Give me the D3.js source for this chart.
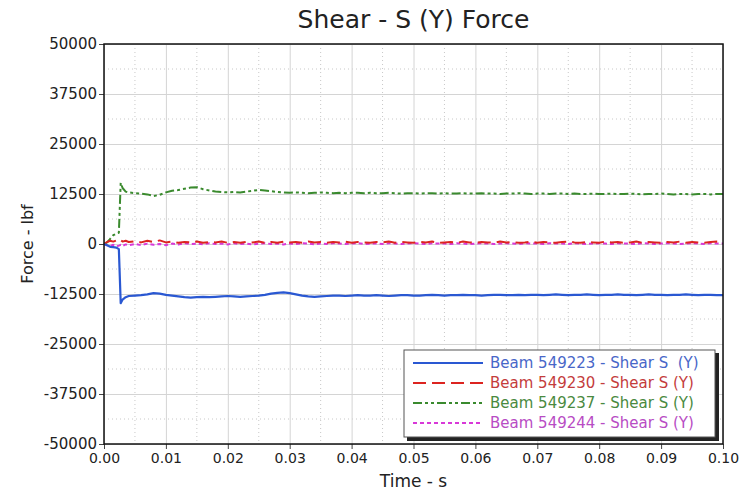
<!DOCTYPE html>
<html>
<head>
<meta charset="utf-8">
<script src="https://cdn.jsdelivr.net/npm/d3@7"></script>
<style>
  body { margin: 0; background: #fff; }
  svg text { font-family: "DejaVu Sans", sans-serif; fill: #222; }
</style>
</head>
<body>
<div id="chart"></div>
<script>
// Shear - S (Y) Force, four beams vs time
const time = [0, 0.0005, 0.001, 0.0015, 0.002, 0.0024, 0.0027, 0.003, 0.0035, 0.004,
  0.005, 0.006, 0.007, 0.008, 0.009, 0.010,
  0.011, 0.012, 0.013, 0.014, 0.015, 0.016, 0.017, 0.018, 0.019, 0.020,
  0.021, 0.022, 0.023, 0.024, 0.025, 0.026, 0.027, 0.028, 0.029, 0.030,
  0.031, 0.032, 0.033, 0.034, 0.035, 0.036, 0.037, 0.038, 0.039, 0.040,
  0.041, 0.042, 0.043, 0.044, 0.045, 0.046, 0.047, 0.048, 0.049, 0.050,
  0.051, 0.052, 0.053, 0.054, 0.055, 0.056, 0.057, 0.058, 0.059, 0.060,
  0.061, 0.062, 0.063, 0.064, 0.065, 0.066, 0.067, 0.068, 0.069, 0.070,
  0.071, 0.072, 0.073, 0.074, 0.075, 0.076, 0.077, 0.078, 0.079, 0.080,
  0.081, 0.082, 0.083, 0.084, 0.085, 0.086, 0.087, 0.088, 0.089, 0.090,
  0.091, 0.092, 0.093, 0.094, 0.095, 0.096, 0.097, 0.098, 0.099, 0.100];

const beam223 = [0, -300, -700, -800, -900, -1300, -14800, -13900, -13300, -13000,
  -12900, -12800, -12600, -12300, -12400, -12700,
  -12900, -13100, -13300, -13400, -13300, -13200, -13300, -13200, -13100, -13000,
  -13100, -13200, -13100, -13000, -12900, -12700, -12400, -12200, -12100, -12300,
  -12600, -12900, -13100, -13200, -13100, -13000, -12900, -12900, -13000, -12900,
  -12800, -12900, -12900, -12800, -12900, -13000, -12900, -12800, -12800, -12900,
  -12900, -12800, -12700, -12800, -12900, -12800, -12800, -12700, -12800, -12800,
  -12900, -12800, -12700, -12700, -12800, -12800, -12700, -12800, -12700, -12700,
  -12800, -12700, -12600, -12700, -12800, -12700, -12700, -12600, -12700, -12800,
  -12700, -12700, -12600, -12700, -12700, -12800, -12700, -12600, -12700, -12700,
  -12800, -12700, -12700, -12600, -12700, -12800, -12700, -12700, -12800, -12800];

const beam230 = [0, 500, 800, 600, 900, 700, 1000, 600, 800, 500,
  700, 400, 800, 500, 900, 400,
  600, 300, 500, 400, 600, 300, 500, 400, 600, 300,
  500, 300, 500, 400, 600, 300, 500, 300, 600, 400,
  500, 300, 600, 400, 500, 300, 500, 400, 600, 300,
  500, 400, 300, 500, 400, 600, 300, 500, 400, 300,
  500, 400, 600, 300, 400, 500, 300, 600, 400, 300,
  500, 400, 300, 600, 400, 500, 300, 400, 600, 300,
  500, 400, 300, 500, 600, 400, 300, 500, 400, 300,
  600, 400, 500, 300, 400, 600, 300, 500, 400, 300,
  500, 400, 600, 300, 500, 400, 300, 500, 600, 400];

const beam237 = [0, 400, 1300, 2200, 2600, 2800, 15300, 14000, 13100, 12900,
  12700, 12600, 12400, 12000, 12300, 12900,
  13300, 13500, 13800, 14100, 14200, 13700, 13400, 13100, 13000, 12900,
  13000, 12900, 13100, 13300, 13500, 13400, 13200, 13000, 12900, 12800,
  12900, 12800, 12700, 12800, 12900, 12800, 12700, 12800, 12700, 12800,
  12800, 12700, 12800, 12700, 12700, 12800, 12700, 12600, 12700, 12700,
  12600, 12700, 12700, 12600, 12700, 12600, 12600, 12700, 12600, 12600,
  12700, 12600, 12600, 12500, 12600, 12600, 12700, 12600, 12500, 12600,
  12600, 12500, 12600, 12600, 12500, 12600, 12500, 12500, 12600, 12500,
  12500, 12600, 12500, 12500, 12600, 12500, 12400, 12500, 12500, 12600,
  12500, 12400, 12500, 12500, 12400, 12500, 12500, 12400, 12500, 12500];

const beam244 = [0, -300, -500, -200, -600, -400, -200, -500, -100, -300,
  0, -300, 100, -200, 0, -300,
  100, -100, 200, 0, 100, -100, 200, 0, 100, -100,
  200, 0, 100, -100, 100, 200, 0, 100, -100, 100,
  0, 200, 100, -100, 100, 0, 200, 100, 0, 100,
  200, 0, 100, 100, 0, 200, 100, 0, 100, 200,
  100, 0, 200, 100, 100, 0, 200, 100, 0, 100,
  200, 100, 0, 100, 200, 100, 0, 200, 100, 100,
  0, 200, 100, 100, 0, 200, 100, 0, 100, 200,
  100, 0, 200, 100, 100, 0, 200, 100, 0, 100,
  200, 100, 0, 100, 200, 100, 0, 200, 100, 100];

const seriesNames = ['Beam 549223 - Shear S  (Y)', 'Beam 549230 - Shear S (Y)',
  'Beam 549237 - Shear S (Y)', 'Beam 549244 - Shear S (Y)'];
const xTicks = [0, 0.01, 0.02, 0.03, 0.04, 0.05, 0.06, 0.07, 0.08, 0.09, 0.10];
const yTicks = [-50000, -37500, -25000, -12500, 0, 12500, 25000, 37500, 50000];

const width = 739, height = 492;
const margin = {top: 44, right: 16, bottom: 48, left: 104};
const plotW = width - margin.left - margin.right;
const plotH = height - margin.top - margin.bottom;

const series = [
  {name: seriesNames[0], values: beam223, color: '#2a58d2', text: '#4866c8', dash: null, width: 2.2},
  {name: seriesNames[1], values: beam230, color: '#dc2420', text: '#c43c3c', dash: '13,6', width: 2},
  {name: seriesNames[2], values: beam237, color: '#3a8a2e', text: '#4a8a40', dash: '9,3,3,3,3,3', width: 2},
  {name: seriesNames[3], values: beam244, color: '#d838d8', text: '#b84cc4', dash: '4,3', width: 2}
];

const svg = d3.select('#chart').append('svg')
  .attr('width', width)
  .attr('height', height);

const x = d3.scaleLinear().domain([0, 0.1]).range([0, plotW]);
const y = d3.scaleLinear().domain([-50000, 50000]).range([plotH, 0]);

const g = svg.append('g')
  .attr('transform', `translate(${margin.left},${margin.top})`);

// minor (dotted) grid at half steps
const xMinor = xTicks.slice(0, -1).map(d => d + 0.005);
const yMinor = yTicks.slice(0, -1).map(d => d + 6250);

g.append('g')
  .selectAll('line.vmin')
  .data(xMinor)
  .enter().append('line')
  .attr('x1', d => x(d)).attr('x2', d => x(d))
  .attr('y1', 0).attr('y2', plotH)
  .attr('stroke', '#c8c8c8')
  .attr('stroke-dasharray', '1,3');

g.append('g')
  .selectAll('line.hmin')
  .data(yMinor)
  .enter().append('line')
  .attr('x1', 0).attr('x2', plotW)
  .attr('y1', d => y(d)).attr('y2', d => y(d))
  .attr('stroke', '#c8c8c8')
  .attr('stroke-dasharray', '1,3');

// major grid
g.append('g')
  .attr('transform', `translate(0,${plotH})`)
  .call(d3.axisBottom(x).tickValues(xTicks).tickSize(-plotH).tickFormat(''))
  .call(a => a.select('.domain').remove())
  .call(a => a.selectAll('line').attr('stroke', '#d4d4d4'));

g.append('g')
  .call(d3.axisLeft(y).tickValues(yTicks).tickSize(-plotW).tickFormat(''))
  .call(a => a.select('.domain').remove())
  .call(a => a.selectAll('line').attr('stroke', '#d4d4d4'));

// lines
const line = d3.line()
  .x((d, i) => x(time[i]))
  .y(d => y(d));

const drawOrder = [3, 2, 1, 0];
drawOrder.forEach(i => {
  const s = series[i];
  g.append('path')
    .datum(s.values)
    .attr('fill', 'none')
    .attr('stroke', s.color)
    .attr('stroke-width', s.width)
    .attr('stroke-linejoin', 'round')
    .attr('stroke-dasharray', s.dash)
    .attr('d', line);
});

// axes
const xAxis = g.append('g')
  .attr('transform', `translate(0,${plotH})`)
  .call(d3.axisBottom(x).tickValues(xTicks).tickSizeInner(5).tickSizeOuter(0).tickPadding(4)
    .tickFormat(d3.format('.2f')));
xAxis.selectAll('text').attr('font-size', '14px').attr('fill', '#222');

const yAxis = g.append('g')
  .call(d3.axisLeft(y).tickValues(yTicks).tickSizeInner(5).tickSizeOuter(0).tickPadding(2)
    .tickFormat(d => String(d)));
yAxis.selectAll('text').attr('font-size', '15px').attr('fill', '#222');
[xAxis, yAxis].forEach(a => {
  a.select('.domain').remove();
  a.selectAll('line').attr('stroke', '#444');
});

// plot frame
g.append('rect')
  .attr('width', plotW)
  .attr('height', plotH)
  .attr('fill', 'none')
  .attr('stroke', '#111')
  .attr('stroke-width', 1.5);

// title and axis labels
svg.append('text')
  .attr('x', margin.left + plotW / 2)
  .attr('y', 28)
  .attr('text-anchor', 'middle')
  .attr('font-size', '25px')
  .text('Shear - S (Y) Force');

svg.append('text')
  .attr('x', margin.left + plotW / 2)
  .attr('y', 487)
  .attr('text-anchor', 'middle')
  .attr('font-size', '17px')
  .text('Time - s');

svg.append('text')
  .attr('transform', 'rotate(-90)')
  .attr('x', -(margin.top + plotH / 2))
  .attr('y', 33)
  .attr('text-anchor', 'middle')
  .attr('font-size', '16px')
  .text('Force - lbf');

// legend
const lg = svg.append('g').attr('transform', 'translate(404,350)');
lg.append('rect')
  .attr('x', 3).attr('y', 3)
  .attr('width', 312).attr('height', 88)
  .attr('fill', '#222');
lg.append('rect')
  .attr('width', 311).attr('height', 87)
  .attr('fill', '#fff')
  .attr('stroke', '#555')
  .attr('stroke-width', 1);

const row = lg.selectAll('g.row')
  .data(series)
  .enter().append('g')
  .attr('transform', (d, i) => `translate(0,${13 + i * 20})`);

row.append('line')
  .attr('x1', 9).attr('x2', 79)
  .attr('stroke', d => d.color)
  .attr('stroke-width', 2.2)
  .attr('stroke-dasharray', d => d.dash);

row.append('text')
  .attr('x', 86)
  .attr('y', 5)
  .attr('font-size', '15px')
  .style('white-space', 'pre')
  .style('fill', d => d.text)
  .text(d => d.name);
</script>
</body>
</html>
